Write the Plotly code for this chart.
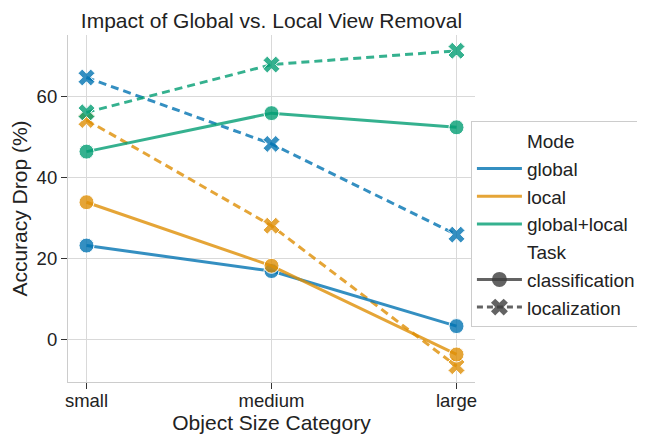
import plotly.graph_objects as go

categories = ["small", "medium", "large"]
modes = ["global", "local", "global+local"]
classification = {
    "global": [23.3, 17.0, 3.4],
    "local": [34.0, 18.3, -3.6],
    "global+local": [46.5, 56.0, 52.5],
}
localization = {
    "global": [64.8, 48.4, 26.0],
    "local": [54.3, 28.2, -6.5],
    "global+local": [56.2, 68.0, 71.4],
}
colors = {
    "global": "rgba(1,115,178,0.8)",
    "local": "rgba(222,143,5,0.8)",
    "global+local": "rgba(2,158,115,0.8)",
}

fig = go.Figure()
for m in modes:
    fig.add_trace(go.Scatter(
        x=categories, y=localization[m], mode="lines+markers", showlegend=False,
        line=dict(color=colors[m], width=3, dash="8px,5px"),
        marker=dict(symbol="x", size=15, color=colors[m], line=dict(color="white", width=1)),
    ))
for m in modes:
    fig.add_trace(go.Scatter(
        x=categories, y=classification[m], mode="lines+markers", showlegend=False,
        line=dict(color=colors[m], width=3),
        marker=dict(symbol="circle", size=15, color=colors[m], line=dict(color="white", width=1)),
    ))

# legend entries
gray = "rgba(60,60,60,0.8)"
entries = [("Mode", "none", None)] + [(m, "mode", m) for m in modes] + \
          [("Task", "none", None), ("classification", "cls", None), ("localization", "loc", None)]
for i, (name, kind, m) in enumerate(entries):
    if kind == "none":
        tr = go.Scatter(x=[None], y=[None], mode="lines", name=name,
                        line=dict(color="rgba(0,0,0,0)", width=3))
    elif kind == "mode":
        tr = go.Scatter(x=[None], y=[None], mode="lines", name=name,
                        line=dict(color=colors[m], width=3))
    elif kind == "cls":
        tr = go.Scatter(x=[None], y=[None], mode="lines+markers", name=name,
                        line=dict(color=gray, width=3),
                        marker=dict(symbol="circle", size=15, color=gray))
    else:
        tr = go.Scatter(x=[None], y=[None], mode="lines+markers", name=name,
                        line=dict(color=gray, width=3, dash="6px,4px"),
                        marker=dict(symbol="x", size=15, color=gray))
    fig.add_trace(tr)

# page body has an 8px margin, so the figure is shifted by 8px on screen
W, H = 637, 427
L, T = 60, 27
PW, PH = 407, 347

axis_common = dict(
    showgrid=True, gridcolor="#d9d9d9", gridwidth=1,
    showline=True, linecolor="#cccccc", linewidth=1.2,
    ticks="outside", ticklen=6, tickcolor="#333333", tickwidth=1.2,
    tickfont=dict(size=18.5, color="#222222"),
    zeroline=False, automargin=False,
)
fig.update_layout(
    width=W, height=H,
    margin=dict(l=L, r=W - L - PW, t=T, b=H - T - PH, autoexpand=False),
    paper_bgcolor="white", plot_bgcolor="white",
    font=dict(family="Liberation Sans, Arial, sans-serif", color="#222222"),
    title=dict(text="Impact of Global vs. Local View Removal", x=(L + PW / 2) / W,
               xanchor="center", y=1 - 13 / H, yanchor="middle",
               font=dict(size=21, color="#222222")),
    xaxis=dict(**axis_common, type="category", range=[-0.1, 2.1], ticklabelstandoff=-4,
               title=dict(text="Object Size Category", font=dict(size=21), standoff=0)),
    yaxis=dict(**axis_common, range=[-10.4, 75.3], tickvals=[0, 20, 40, 60],
               title=dict(text="Accuracy Drop (%)", font=dict(size=21), standoff=5)),
    legend=dict(x=0.99, y=0.752, xanchor="left", yanchor="top",
                bgcolor="white", bordercolor="#cccccc", borderwidth=1,
                font=dict(size=19, color="#222222"), itemwidth=45,
                tracegroupgap=0),
)

fig.write_html("out.html")
